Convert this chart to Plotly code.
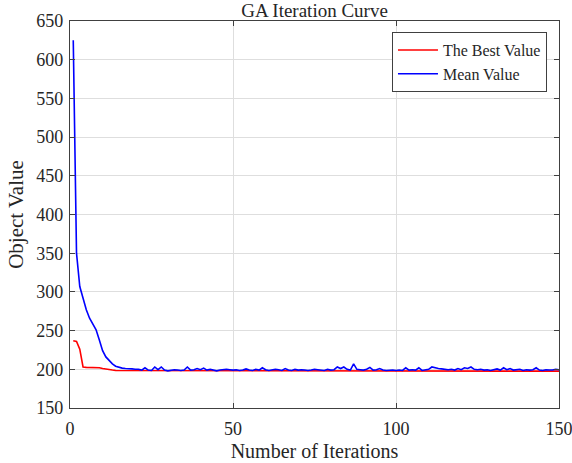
import plotly.graph_objects as go

iterations = list(range(1, 151))

best_value = [
    237, 236, 226, 203, 202.5, 202.5, 202.5, 202.5, 202, 201,
    200, 199.5, 199, 198.5, 198.5, 198.3, 198.2, 198.2, 198.1, 198,
    198, 198, 198, 198, 198, 198, 198, 198, 198, 198,
    198, 198, 198, 197.9, 197.9, 197.9, 197.9, 197.9, 197.9, 197.9,
    197.9, 197.9, 197.9, 197.9, 197.9, 197.8, 197.8, 197.8, 197.8, 197.8,
    197.8, 197.8, 197.8, 197.8, 197.8, 197.8, 197.8, 197.8, 197.8, 197.8,
    197.8, 197.8, 197.8, 197.8, 197.8, 197.8, 197.8, 197.8, 197.8, 197.8,
    197.7, 197.7, 197.7, 197.7, 197.7, 197.7, 197.7, 197.7, 197.7, 197.7,
    197.7, 197.7, 197.7, 197.7, 197.7, 197.7, 197.7, 197.7, 197.7, 197.7,
    197.7, 197.7, 197.7, 197.7, 197.7, 197.7, 197.7, 197.7, 197.7, 197.7,
    197.6, 197.6, 197.6, 197.6, 197.6, 197.6, 197.6, 197.6, 197.6, 197.6,
    197.6, 197.6, 197.6, 197.6, 197.6, 197.6, 197.6, 197.6, 197.6, 197.6,
    197.6, 197.6, 197.6, 197.6, 197.6, 197.6, 197.6, 197.6, 197.6, 197.6,
    197.6, 197.6, 197.6, 197.6, 197.6, 197.6, 197.6, 197.6, 197.6, 197.6,
    197.6, 197.6, 197.6, 197.6, 197.6, 197.6, 197.6, 197.6, 197.6, 197.6,
]

mean_value = [
    625, 350, 307, 290, 277, 266, 258, 251, 238, 224,
    216, 211, 207, 204, 202.5, 201.5, 201, 201, 200.5, 200,
    200, 199, 202, 199, 198.5, 203, 199.5, 203, 199, 198,
    199, 199.5, 199, 198.5, 199, 203, 199, 199.5, 201, 199.5,
    201.5, 199, 200, 198.5, 198, 199, 200, 200, 199.5, 199,
    199.5, 198.5, 199, 200.5, 199, 198.5, 200, 199, 202, 199.5,
    198.5, 199, 200, 199.5, 198.5, 201, 199, 198.5, 200, 199,
    199.5, 199, 198.5, 199, 200, 199.5, 199, 198.5, 200, 199,
    199.5, 203, 201, 203, 200, 199, 207, 200, 199.5, 199,
    200, 202.5, 199, 199.5, 201, 199, 198.5, 199, 199, 198.5,
    199, 198.5, 202, 199, 199.5, 199, 202, 198.5, 199, 200,
    203, 201.5, 201, 200.5, 200, 199.5, 200, 199, 201, 199.5,
    202, 201, 203, 200, 199.5, 200, 199, 199.5, 198.5, 200,
    200.5, 199, 202, 199.5, 201, 199, 199.5, 200, 198.5, 199.5,
    199, 199.5, 202, 199, 198.5, 199.5, 199, 199, 200, 199.5,
]

x_ticks = [0, 50, 100, 150]
y_ticks = list(range(150, 651, 50))

fig = go.Figure()
fig.add_trace(go.Scatter(x=iterations, y=best_value, mode="lines", name="The Best Value",
                         line=dict(color="#ff0000", width=1.6)))
fig.add_trace(go.Scatter(x=iterations, y=mean_value, mode="lines", name="Mean Value",
                         line=dict(color="#0000ff", width=1.6)))

font_family = "Liberation Serif, Times New Roman, serif"
text_color = "#262626"
axis_common = dict(
    showgrid=True, gridcolor="#dedede", gridwidth=1,
    showline=True, linecolor="#404040", linewidth=1.2, mirror="ticks",
    ticks="inside", ticklen=5, tickcolor="#404040",
    tickfont=dict(family=font_family, size=18, color=text_color),
    zeroline=False, automargin=False, ticklabeloverflow="allow",
)

fig.update_layout(
    width=572, height=463,
    margin=dict(l=70, r=13, t=21, b=55),
    paper_bgcolor="white", plot_bgcolor="white",
    title=dict(text="GA Iteration Curve", xref="paper", x=0.5, xanchor="center",
               yref="container", y=0.993, yanchor="top",
               font=dict(family=font_family, size=19, color=text_color)),
    xaxis=dict(range=[0, 150], tickvals=x_ticks, ticklabelstandoff=4,
               title=dict(text="Number of Iterations", standoff=6,
                          font=dict(family=font_family, size=20, color=text_color)),
               **axis_common),
    yaxis=dict(range=[150, 650], tickvals=y_ticks, ticklabelstandoff=2,
               title=dict(text="Object Value", standoff=6,
                          font=dict(family=font_family, size=21, color=text_color)),
               **axis_common),
    legend=dict(x=0.975, y=0.972, xanchor="right", yanchor="top",
                bgcolor="white", bordercolor="#404040", borderwidth=1.2,
                font=dict(family=font_family, size=16, color=text_color),
                tracegroupgap=0, itemwidth=40),
    showlegend=True,
)

fig.write_html("out.html", config={"displayModeBar": False},
               post_script="document.body.style.margin='0px';")
